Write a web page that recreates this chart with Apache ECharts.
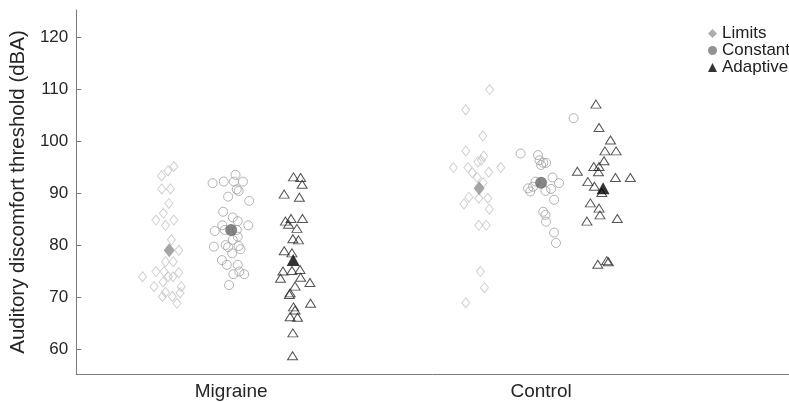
<!DOCTYPE html>
<html>
<head>
<meta charset="utf-8">
<script src="https://cdn.jsdelivr.net/npm/echarts@6/dist/echarts.min.js"></script>
<style>html,body{margin:0;padding:0;background:#fff;}#c{width:789px;height:402px;}</style>
</head>
<body>
<div id="c"></div>
<script>
// Category tick labels (positions 1 and 2 on the x scale)
const groups = ['Migraine', 'Control'];
const groupPos = [1, 2];
const yTicks = [60, 70, 80, 90, 100, 110, 120];
const methods = ['Limits', 'Constant', 'Adaptive'];

// Individual points: [x (jittered), threshold dBA]
const limitsPts = [
  [0.815,95.1],[0.796,94.3],[0.775,93.3],[0.776,90.8],[0.804,90.8],[0.799,88.0],[0.781,86.1],
  [0.757,84.8],[0.788,83.8],[0.815,84.8],[0.807,81.0],[0.831,79.0],[0.788,76.8],[0.813,76.8],
  [0.714,73.9],[0.757,74.9],[0.783,74.9],[0.797,73.9],[0.812,73.9],[0.831,74.7],[0.751,72.0],
  [0.780,72.9],[0.839,72.0],[0.788,70.9],[0.810,70.1],[0.835,70.8],[0.778,70.1],[0.825,68.8],
  [1.834,109.9],[1.757,106.0],[1.812,101.0],[1.757,98.1],[1.815,97.1],[1.796,96.0],[1.807,96.3],
  [1.717,94.9],[1.764,94.9],[1.778,93.9],[1.831,94.0],[1.870,94.9],[1.794,93.0],[1.813,92.0],
  [1.767,89.2],[1.751,87.9],[1.799,89.0],[1.828,89.0],[1.833,86.9],[1.799,83.8],[1.823,83.8],
  [1.804,74.9],[1.817,71.8],[1.757,68.9]
];
const constantPts = [
  [1.014,93.5],[0.940,91.9],[0.976,92.2],[1.009,92.2],[1.038,92.2],[1.018,90.7],[1.024,90.4],
  [0.990,89.3],[1.058,88.5],[0.974,86.4],[1.005,85.3],[1.021,84.6],[1.055,83.8],[0.971,83.8],
  [0.947,82.7],[0.979,82.9],[1.018,82.9],[1.021,81.6],[1.005,81.0],[0.944,79.7],[0.982,80.0],
  [0.990,79.6],[1.024,79.8],[1.030,79.2],[1.003,78.4],[0.970,77.1],[0.986,76.2],[1.021,76.2],
  [1.007,74.4],[1.026,74.9],[1.042,74.4],[0.993,72.3],
  [2.105,104.4],[1.934,97.6],[1.990,97.3],[1.995,96.3],[2.007,95.8],[2.016,95.8],[2.000,95.4],
  [2.037,93.0],[2.058,91.9],[1.982,92.2],[1.974,91.2],[1.958,90.9],[1.965,90.3],[2.032,90.8],
  [2.014,90.4],[2.042,88.7],[2.007,86.4],[2.014,85.8],[2.016,84.5],[2.042,82.4],[2.048,80.4]
];
const adaptivePts = [
  [1.201,93.1],[1.224,93.0],[1.229,91.7],[1.171,89.8],[1.220,89.2],[1.175,84.6],[1.193,85.1],
  [1.230,85.1],[1.185,84.0],[1.212,83.2],[1.199,81.2],[1.217,81.0],[1.171,78.9],[1.196,78.5],
  [1.167,75.0],[1.196,75.1],[1.222,75.3],[1.159,73.6],[1.224,73.8],[1.254,72.8],[1.206,72.1],
  [1.190,70.8],[1.188,70.5],[1.256,68.8],[1.201,68.1],[1.206,67.5],[1.190,66.2],[1.214,66.1],
  [1.199,63.1],[1.198,58.7],
  [2.177,107.1],[2.187,102.6],[2.224,100.2],[2.206,98.1],[2.242,98.1],[2.203,96.2],[2.117,94.2],
  [2.170,95.1],[2.187,95.1],[2.185,94.1],[2.240,93.0],[2.288,93.0],[2.151,92.2],[2.172,91.3],
  [2.196,90.1],[2.159,88.1],[2.187,87.1],[2.190,85.8],[2.148,84.6],[2.246,85.1],[2.183,76.3],
  [2.212,77.0],[2.217,76.8]
];
// Group means: [x, mean dBA]
const limitsMean = [[0.8, 79.0], [1.8, 90.9]];
const constantMean = [[1.0, 82.9], [2.0, 92.0]];
const adaptiveMean = [[1.2, 77.1], [2.2, 90.9]];

const FONT = 'Liberation Sans';
const chart = echarts.init(document.getElementById('c'), null, {renderer: 'canvas'});

function hollow(name, data, symbol, size, stroke) {
  return {
    name: name, type: 'scatter', data: data, symbol: symbol, symbolSize: size,
    itemStyle: {color: 'rgba(255,255,255,0)', borderColor: stroke, borderWidth: 1},
    emphasis: {disabled: true}, silent: true, z: 2
  };
}
function filled(name, data, symbol, size, fill) {
  return {
    name: name, type: 'scatter', data: data, symbol: symbol, symbolSize: size,
    itemStyle: {color: fill, borderColor: fill, borderWidth: 0},
    emphasis: {disabled: true}, silent: true, z: 5
  };
}

chart.setOption({
  animation: false,
  backgroundColor: '#ffffff',
  grid: {left: 76, top: 10, width: 724, height: 364, containLabel: false},
  legend: {
    orient: 'vertical', left: 703, top: 20, itemGap: 0, itemWidth: 9, itemHeight: 9,
    textStyle: {fontFamily: FONT, fontSize: 17, color: '#222', lineHeight: 17},
    data: [
      {name: 'Limits', icon: 'diamond', itemStyle: {color: '#999999'}},
      {name: 'Constant', icon: 'circle', itemStyle: {color: '#777777'}},
      {name: 'Adaptive', icon: 'triangle', itemStyle: {color: '#000000'}}
    ],
    selectedMode: false
  },
  xAxis: {
    type: 'value', min: 0.5, max: 2.8,
    splitLine: {show: false},
    axisLine: {show: true, onZero: false, lineStyle: {color: '#7a7a7a', width: 1}},
    axisTick: {show: false},
    axisLabel: {
      customValues: groupPos, margin: 8,
      formatter: function (v) { const i = groupPos.indexOf(Math.round(v)); return i >= 0 ? groups[i] : ''; },
      fontFamily: FONT, fontSize: 19, color: '#262626'
    }
  },
  yAxis: {
    type: 'value', min: 55.2, max: 125.2,
    name: 'Auditory discomfort threshold (dBA)', nameLocation: 'middle', nameGap: 44,
    nameTextStyle: {fontFamily: FONT, fontSize: 20.5, color: '#262626'},
    splitLine: {show: false},
    axisLine: {show: true, lineStyle: {color: '#7a7a7a', width: 1}},
    axisTick: {show: true, inside: true, length: 5, customValues: yTicks, lineStyle: {color: '#7a7a7a'}},
    axisLabel: {customValues: yTicks, margin: 8, fontFamily: FONT, fontSize: 17, color: '#262626'}
  },
  series: [
    hollow('Limits pts', limitsPts, 'diamond', [8, 10], '#c4c4c4'),
    hollow('Constant pts', constantPts, 'circle', 9, '#a0a0a0'),
    hollow('Adaptive pts', adaptivePts, 'triangle', [10, 8], '#2a2a2a'),
    filled('Limits', limitsMean, 'diamond', [11, 14], '#8f8f8f'),
    filled('Constant', constantMean, 'circle', 12, '#666666'),
    filled('Adaptive', adaptiveMean, 'triangle', [13, 12], '#000000')
  ]
});
</script>
</body>
</html>
